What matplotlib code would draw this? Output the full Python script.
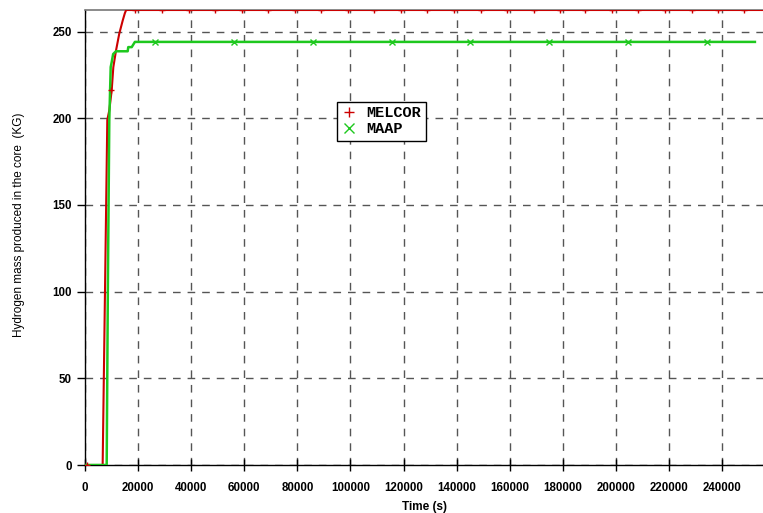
import matplotlib
matplotlib.use("Agg")
import matplotlib.pyplot as plt

# ---- data ----
melcor_t = [0, 800, 6650, 8400, 9150, 10050, 10670, 11680, 12900, 14200, 15000, 15500, 255400]
melcor_h = [0, 0, 0, 199, 204.5, 216, 229.4, 239, 248.7, 256.3, 260.5, 262.4, 262.4]

maap_t = [0, 8170, 8600, 9150, 9680, 10050, 10600, 11680, 16080, 16300, 17600, 18800, 252350]
maap_h = [0, 0, 100, 198.7, 229.5, 232.3, 237, 238.6, 238.6, 241, 241, 244, 244]

melcor_mark_t = [800, 9700, 19000, 29000, 39000, 49000, 59000, 69000, 79000, 89000,
                 99000, 109000, 119000, 129000, 139000, 149000, 159000, 169000,
                 179000, 188300, 198400, 208300, 218400, 228600, 238400, 248200]
melcor_mark_h = [0, 216] + [262.4] * 24

maap_mark_t = [26400, 56100, 85800, 115500, 145200, 174900, 204600, 234300]
maap_mark_h = [244] * 8

xticks = [0, 20000, 40000, 60000, 80000, 100000, 120000, 140000, 160000,
          180000, 200000, 220000, 240000]
yticks = [0, 50, 100, 150, 200, 250]

red = "#cc0000"
green = "#1ec81e"

fig = plt.figure(figsize=(7.63, 5.13), dpi=100)
ax = fig.add_axes([85 / 763, 1 - 465 / 513, 678 / 763, 455 / 513])

ax.plot(melcor_t, melcor_h, color=red, lw=1.5, zorder=3)
ax.plot(maap_t, maap_h, color=green, lw=1.8, zorder=3)
ax.plot(melcor_mark_t, melcor_mark_h, ls="none", marker="+", ms=5, mew=1, color=red, zorder=4)
ax.plot(maap_mark_t, maap_mark_h, ls="none", marker="x", ms=5, mew=1, color=green, zorder=4)

# legend proxies
ax.plot([], [], ls="none", marker="+", ms=7, mew=1, color=red, label="MELCOR")
ax.plot([], [], ls="none", marker="x", ms=6.5, mew=1, color=green, label="MAAP")

ax.set_xlim(0, 255400)
ax.set_ylim(0, 262.4)
ax.set_xticks(xticks)
ax.set_yticks(yticks)
ax.set_xticklabels([str(v) for v in xticks])
ax.set_yticklabels([str(v) for v in yticks])

ax.grid(True, color="#555555", lw=1.0, ls=(0, (5.5, 5)))
ax.set_axisbelow(True)

ax.spines["right"].set_visible(False)
ax.spines["top"].set_color("#777777")
ax.spines["top"].set_linewidth(1.2)
for s in ("left", "bottom"):
    ax.spines[s].set_linewidth(1.0)
    ax.spines[s].set_color("black")

ax.tick_params(axis="x", direction="inout", length=8, width=1, pad=8)
ax.tick_params(axis="y", direction="out", length=6, width=1, pad=3.5)
for lab in ax.get_xticklabels() + ax.get_yticklabels():
    lab.set_fontfamily("Liberation Sans")
    lab.set_fontweight("bold")
    lab.set_fontsize(8.3)

ax.set_xlabel("Time (s)", fontfamily="Liberation Sans", fontweight="bold", fontsize=8.5, labelpad=5)
ax.set_ylabel("Hydrogen mass produced in the core  (KG)", fontfamily="Liberation Sans",
              fontsize=8.5, fontweight="normal")
ax.yaxis.set_label_coords(-0.088, 0.527)

leg = ax.legend(loc="upper left", bbox_to_anchor=(0.372, 0.798), borderaxespad=0,
                frameon=True, fancybox=False, edgecolor="black", framealpha=1,
                prop=dict(family="Liberation Mono", weight="bold", size=11),
                handlelength=1.0, handletextpad=0.6, borderpad=0.3, labelspacing=0.12)
leg.get_frame().set_linewidth(1.0)

fig.savefig("out.png", dpi=100)
